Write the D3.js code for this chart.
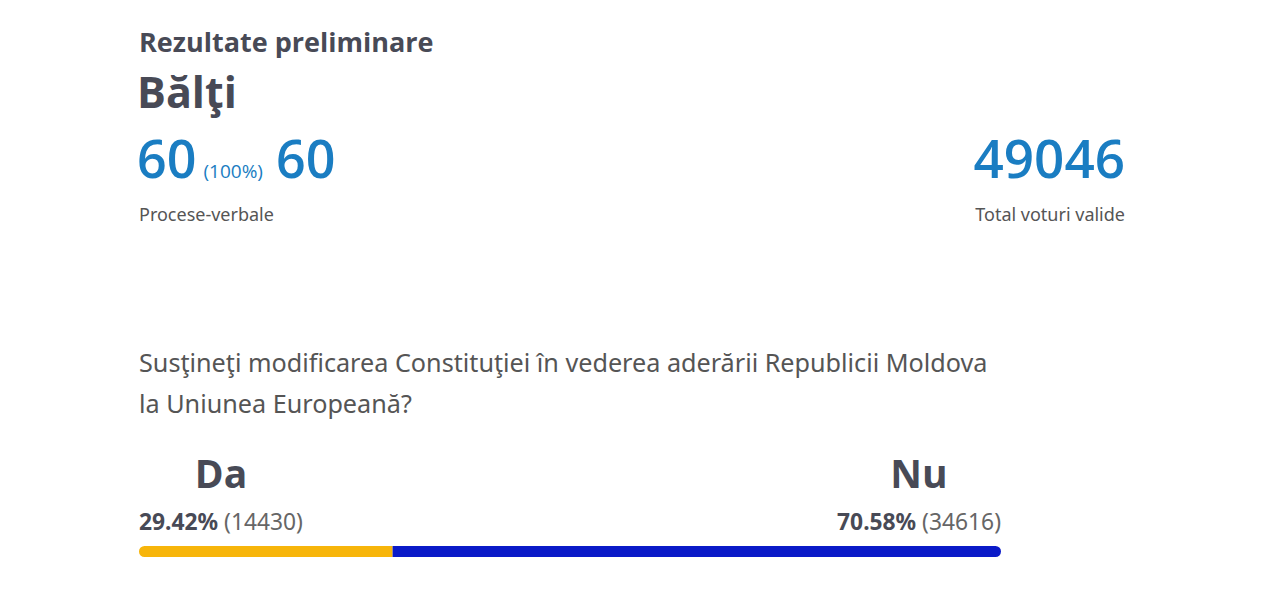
<!DOCTYPE html>
<html><head><meta charset="utf-8">
<script src="https://cdn.jsdelivr.net/npm/d3@7"></script>
<style>html,body{margin:0;padding:0;background:#fff;}svg{display:block;}</style>
</head><body>
<svg id="c" width="1280" height="603"></svg>
<script>
const title = "Rezultate preliminare";
const placeName = "Bălţi";
const protocols = [60, 60];
const protocolPct = "(100%)";
const totalValid = 49046;
const question = ["Susţineţi modificarea Constituţiei în vederea aderării Republicii Moldova", "la Uniunea Europeană?"];
const options = ["Da", "Nu"];
const votes = [14430, 34616];
const pcts = [29.42, 70.58];
const colors = ["#f7b50a", "#0a1ac8"];

const svg = d3.select("#c");
const dark = "#484a56", blue = "#1a7dc2", grey = "#555";
const headFont = "'Open Sans', 'Noto Sans', sans-serif";
const bodyFont = "'Noto Sans', 'Open Sans', sans-serif";

svg.append("text").attr("x",139).attr("y",52).attr("font-family",headFont).attr("font-weight",700)
  .attr("font-size",27).attr("fill",dark).text(title);
svg.append("text").attr("x",137).attr("y",108).attr("font-family",headFont).attr("font-weight",700)
  .attr("font-size",43).attr("fill",dark).text(placeName);

const t = svg.append("text").attr("x",137).attr("y",178).attr("font-family",headFont).attr("font-weight",600).attr("fill",blue);
t.append("tspan").attr("font-size",52).text(protocols[0]);
t.append("tspan").attr("font-size",19).attr("font-weight",400).attr("dx",7).text(protocolPct);
t.append("tspan").attr("font-size",52).attr("dx",13).text(protocols[1]);
svg.append("text").attr("x",139).attr("y",221).attr("font-family",bodyFont).attr("font-size",18).attr("fill",grey).text("Procese-verbale");

svg.append("text").attr("x",1125).attr("y",178).attr("text-anchor","end").attr("font-family",headFont).attr("font-weight",600)
  .attr("font-size",53).attr("fill",blue).text(totalValid);
svg.append("text").attr("x",1125).attr("y",221).attr("text-anchor","end").attr("font-family",bodyFont).attr("font-size",18).attr("fill",grey).text("Total voturi valide");

question.forEach((q,i)=>svg.append("text").attr("x",139).attr("y",372+i*41).attr("font-family",bodyFont)
  .attr("font-size",25.2).attr("fill","#555").text(q));

const x0 = 139, x1 = 1001;
const x = d3.scaleLinear().domain([0,100]).range([x0,x1]);
const barY = 546, barH = 11;
const clip = svg.append("defs").append("clipPath").attr("id","bc");
clip.append("rect").attr("x",x(0)).attr("y",barY).attr("width",x(100)-x(0)).attr("height",barH).attr("rx",barH/2);
const stacked = [{s:0,e:pcts[0],c:colors[0]},{s:pcts[0],e:pcts[0]+pcts[1],c:colors[1]}];
svg.append("g").attr("clip-path","url(#bc)").selectAll("rect").data(stacked).join("rect")
  .attr("x",d=>x(d.s)).attr("y",barY).attr("width",d=>x(d.e)-x(d.s)).attr("height",barH).attr("fill",d=>d.c);

svg.append("text").attr("x",221).attr("y",488).attr("text-anchor","middle").attr("font-family",headFont).attr("font-weight",700)
  .attr("font-size",39).attr("fill",dark).text(options[0]);
svg.append("text").attr("x",919).attr("y",488).attr("text-anchor","middle").attr("font-family",headFont).attr("font-weight",700)
  .attr("font-size",39).attr("fill",dark).text(options[1]);

const l1 = svg.append("text").attr("x",139).attr("y",530).attr("font-family",bodyFont).attr("font-size",22.8).attr("fill",dark);
l1.append("tspan").attr("font-weight",700).text(pcts[0].toFixed(2)+"%");
l1.append("tspan").attr("fill","#666").text(" ("+votes[0]+")");
const l2 = svg.append("text").attr("x",1001).attr("y",530).attr("text-anchor","end").attr("font-family",bodyFont).attr("font-size",22.8).attr("fill",dark);
l2.append("tspan").attr("font-weight",700).text(pcts[1].toFixed(2)+"%");
l2.append("tspan").attr("fill","#666").text(" ("+votes[1]+")");
</script>
</body></html>
